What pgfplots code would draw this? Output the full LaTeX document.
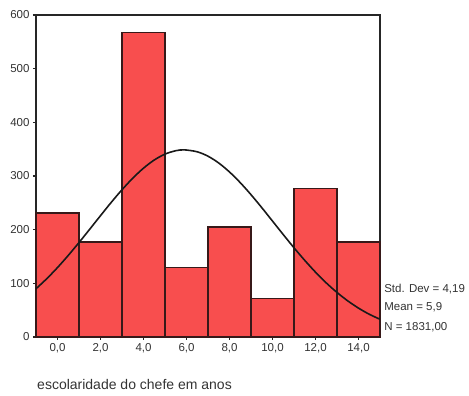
\documentclass[border=0pt]{standalone}
\usepackage{fontspec}
\setmainfont{Liberation Sans}
\usepackage{pgfplots}
\pgfplotsset{compat=1.18}
\definecolor{barred}{RGB}{248,78,78}
\definecolor{edge}{RGB}{55,25,25}
\begin{document}
\begin{tikzpicture}
\path[use as bounding box] (-36pt,-59pt) rectangle (433pt,337pt);
\begin{axis}[
  at={(0,0)}, anchor=south west,
  scale only axis, width=344pt, height=322pt,
  xmin=-1, xmax=15, ymin=0, ymax=600,
  xtick={0,2,...,14}, ytick={0,100,...,600},
  tick align=outside, tick pos=left,
  major tick length=3pt,
  axis line style={line width=1.3pt, black!85},
  every tick/.style={line width=1.3pt, black!85},
  /pgf/number format/assume math mode=true,
  tick label style={font=\fontsize{11.5}{13}\selectfont, text=black!80},
  xticklabel style={/pgf/number format/.cd, fixed, fixed zerofill, precision=1, use comma},
  yticklabel style={/pgf/number format/.cd, fixed, precision=0},
  clip=false,
]
\addplot[ybar interval, fill=barred, draw=edge, line width=1.1pt] coordinates {
  (-1,231) (1,177) (3,568) (5,130) (7,205) (9,71) (11,276) (13,177) (15,177)
};
\addplot[black!90, line width=1.6pt, smooth, mark=none] coordinates {
  (-1,89.9) (-0.5,108.6) (0,129.4) (0.5,152.0) (1,176.0) (1.5,200.9) (2,226.1)
  (2.5,250.9) (3,274.4) (3.5,295.9) (4,314.6) (4.5,329.8) (5,340.8) (5.5,347.1)
  (5.9,348.7) (6.5,345.1) (7,336.9) (7.5,324.2) (8,307.5) (8.5,287.6) (9,265.2)
  (9.5,241.1) (10,216.0) (10.5,190.9) (11,166.2) (11.5,142.8) (12,120.8)
  (12.5,100.8) (13,83.0) (13.5,67.3) (14,53.8) (14.5,42.4) (15,33.0)
};
\node[anchor=west, font=\fontsize{11.5}{13}\selectfont, text=black!80, inner sep=0pt] at (axis description cs:1.012,0.149) {Std. Dev = 4,19};
\node[anchor=west, font=\fontsize{11.5}{13}\selectfont, text=black!80, inner sep=0pt] at (axis description cs:1.012,0.093) {Mean = 5,9};
\node[anchor=west, font=\fontsize{11.5}{13}\selectfont, text=black!80, inner sep=0pt] at (axis description cs:1.012,0.031) {N = 1831,00};
\node[anchor=west, font=\fontsize{14}{16}\selectfont, text=black!80, inner sep=0pt] at (axis description cs:0.003,-0.149) {escolaridade do chefe em anos};
\end{axis}
\end{tikzpicture}
\end{document}
